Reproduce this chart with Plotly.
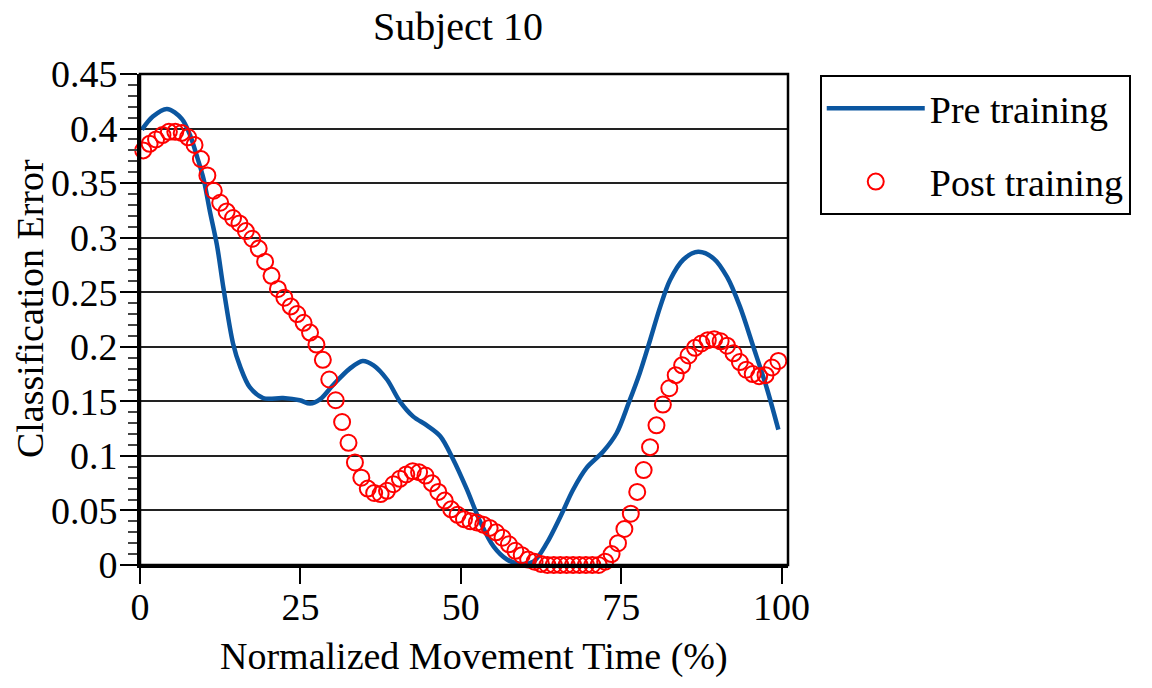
import plotly.graph_objects as go

# ---------------- data ----------------
pre_x = [0.3, 2.0, 4.2, 6.5, 7.8, 8.8, 9.9, 10.9, 12.0, 13.0, 14.5, 15.6, 17.1, 19.2,
         22.3, 24.9, 26.5, 28.1, 30.1, 32.7, 34.7, 36.4, 38.5, 40.5, 42.6, 44.7, 46.8,
         48.8, 50.9, 53.0, 55.1, 57.2, 59.2, 61.3, 63.4, 65.5, 67.5, 69.6, 72.2, 74.3,
         76.2, 77.9, 79.5, 81.1, 82.6, 84.7, 87.0, 89.4, 91.5, 93.5, 95.6, 97.7, 99.5]
pre_y = [0.399, 0.411, 0.418, 0.409, 0.394, 0.376, 0.354, 0.324, 0.293, 0.254, 0.203,
         0.182, 0.163, 0.153, 0.153, 0.151, 0.148, 0.152, 0.165, 0.180, 0.187, 0.183,
         0.170, 0.150, 0.136, 0.128, 0.118, 0.097, 0.070, 0.040, 0.017, 0.005, 0.001,
         0.003, 0.020, 0.044, 0.069, 0.089, 0.104, 0.121, 0.149, 0.176, 0.206, 0.237,
         0.261, 0.280, 0.287, 0.281, 0.264, 0.237, 0.200, 0.162, 0.124]

post_x = [i + 0.5 for i in range(100)]
post_y = [0.380, 0.386, 0.390, 0.394, 0.397, 0.397, 0.396, 0.392, 0.385, 0.372,
          0.357, 0.343, 0.332, 0.324, 0.318, 0.313, 0.306, 0.299, 0.290, 0.278,
          0.265, 0.253, 0.245, 0.237, 0.230, 0.222, 0.213, 0.202, 0.188, 0.170,
          0.151, 0.131, 0.112, 0.094, 0.080, 0.070, 0.066, 0.065, 0.068, 0.074,
          0.079, 0.083, 0.086, 0.085, 0.082, 0.075, 0.067, 0.059, 0.051, 0.046,
          0.042, 0.040, 0.039, 0.037, 0.034, 0.030, 0.025, 0.019, 0.013, 0.009,
          0.005, 0.003, 0.001, 0.0, 0.0, 0.0, 0.0, 0.0, 0.0, 0.0,
          0.0, 0.0, 0.003, 0.010, 0.020, 0.033, 0.047, 0.067, 0.087, 0.108,
          0.128, 0.147, 0.162, 0.174, 0.183, 0.192, 0.199, 0.203, 0.206, 0.207,
          0.205, 0.201, 0.194, 0.186, 0.179, 0.175, 0.173, 0.174, 0.181, 0.187]

series_names = ["Pre training", "Post training"]
x_ticks = [0, 25, 50, 75, 100]
title_text = "Subject 10"
x_title = "Normalized Movement Time (%)"
y_title = "Classification Error"

FONT = "Liberation Serif, Times New Roman, serif"

fig = go.Figure()
fig.add_trace(go.Scatter(
    x=pre_x, y=pre_y, mode="lines", name=series_names[0],
    line=dict(color="#0B56A0", width=4.5, shape="spline", smoothing=0.9),
    legendgroup="a", cliponaxis=False,
))
fig.add_trace(go.Scatter(
    x=post_x, y=post_y, mode="markers", name=series_names[1],
    marker=dict(symbol="circle-open", size=16, color="#FF0000",
                line=dict(width=2, color="#FF0000")),
    legendgroup="b", cliponaxis=False,
))

fig.update_layout(
    width=1152, height=688,
    margin=dict(l=140, r=364, t=74, b=123),
    paper_bgcolor="white", plot_bgcolor="white",
    font=dict(family=FONT, size=38, color="black"),
    showlegend=True,
    legend=dict(
        x=1.049, y=0.998, xanchor="left", yanchor="top",
        bordercolor="black", borderwidth=2, bgcolor="white",
        font=dict(family=FONT, size=38, color="black"),
        itemwidth=98, tracegroupgap=21,
    ),
    xaxis=dict(
        range=[0, 101], tickvals=x_ticks, ticktext=[str(v) for v in x_ticks],
        showgrid=False, zeroline=False,
        showline=True, linecolor="black", linewidth=3,
        ticks="outside", ticklen=16, tickwidth=1.5, tickcolor="black",
        tickfont=dict(family=FONT, size=38), ticklabelstandoff=-10,
    ),
    yaxis=dict(
        range=[0, 0.45], dtick=0.05, tick0=0,
        showgrid=True, gridcolor="#222222", gridwidth=1.5, zeroline=False,
        showline=True, linecolor="black", linewidth=3,
        ticks="outside", ticklen=17, tickwidth=2, tickcolor="black",
        tickfont=dict(family=FONT, size=38), ticklabelstandoff=-5,
        minor=dict(dtick=0.01, ticks="outside", ticklen=9, tickwidth=1.5,
                   tickcolor="#444444", showgrid=False),
    ),
    shapes=[dict(type="rect", xref="paper", yref="paper", x0=0, x1=1, y0=0, y1=1,
                 line=dict(color="black", width=2.5), layer="above")],
    annotations=[
        dict(text=title_text, xref="paper", yref="paper", x=0.491, y=1.096,
             xanchor="center", yanchor="middle", showarrow=False,
             font=dict(family=FONT, size=40)),
        dict(text=x_title, xref="paper", yref="paper", x=0.515, y=-0.187,
             xanchor="center", yanchor="middle", showarrow=False,
             font=dict(family=FONT, size=38)),
        dict(text=y_title, xref="paper", yref="paper", x=-0.170, y=0.523,
             xanchor="center", yanchor="middle", showarrow=False, textangle=-90,
             font=dict(family=FONT, size=38)),
    ],
)

fig.write_html(
    "out.html",
    config={"displayModeBar": False},
    post_script="document.body.style.margin='0';document.body.style.overflow='hidden';",
)
